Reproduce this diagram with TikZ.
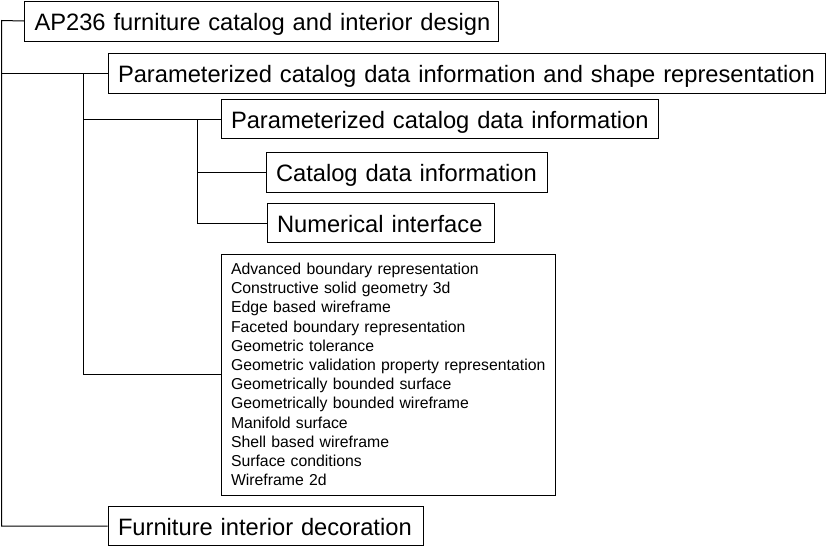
\documentclass[tikz,border=0pt]{standalone}
\usepackage{fontspec}
\setmainfont{Liberation Sans}
\begin{document}
\begin{tikzpicture}[x=1pt,y=-1pt,line width=1pt,
  bigbox/.style={draw,anchor=north west,minimum height=40pt,inner xsep=10pt,inner ysep=0pt,text height=20pt,text depth=2pt,font=\fontsize{23.7}{28}\selectfont,align=left},
  listbox/.style={draw,anchor=north west,inner xsep=10pt,inner ysep=0pt,font=\fontsize{15.8}{19.2}\selectfont,align=left}]
\useasboundingbox (0,0) rectangle (826,546);
\node[bigbox,text width=454pt] (b1) at (24,0.5) {\mbox{AP236 furniture catalog and interior design}};
\node[bigbox,text width=697pt] (b2) at (107.5,53) {\mbox{Parameterized catalog data information and shape representation}};
\node[bigbox,text width=417pt,minimum height=39pt] (b3) at (220.5,99) {\mbox{Parameterized catalog data information}};
\node[bigbox,text width=261pt] (b4) at (265.5,152) {\mbox{Catalog data information}};
\node[bigbox,text width=207pt,minimum height=39pt] (b5) at (266.5,203) {\mbox{Numerical interface}};
\node[listbox,text width=314pt,minimum height=241pt] (b6) at (220.5,253.5) {\mbox{Advanced boundary representation}\\\mbox{Constructive solid geometry 3d}\\\mbox{Edge based wireframe}\\\mbox{Faceted boundary representation}\\\mbox{Geometric tolerance}\\\mbox{Geometric validation property representation}\\\mbox{Geometrically bounded surface}\\\mbox{Geometrically bounded wireframe}\\\mbox{Manifold surface}\\\mbox{Shell based wireframe}\\\mbox{Surface conditions}\\\mbox{Wireframe 2d}};
\node[bigbox,text width=295pt,minimum height=39pt] (b7) at (107.5,506) {\mbox{Furniture interior decoration}};
\coordinate (t0) at (1.5,20.5);
\coordinate (t1) at (83.5,73);
\coordinate (t2) at (197.5,119);
\draw (b1.west) -- (t0) |- (b7.west);
\draw (b2.west) -- (b2.west -| t0);
\draw (b2.west -| t1) |- (b6.west);
\draw (b3.west) -- (b3.west -| t1);
\draw (b3.west -| t2) |- (b5.west);
\draw (b4.west) -- (b4.west -| t2);
\end{tikzpicture}
\end{document}
